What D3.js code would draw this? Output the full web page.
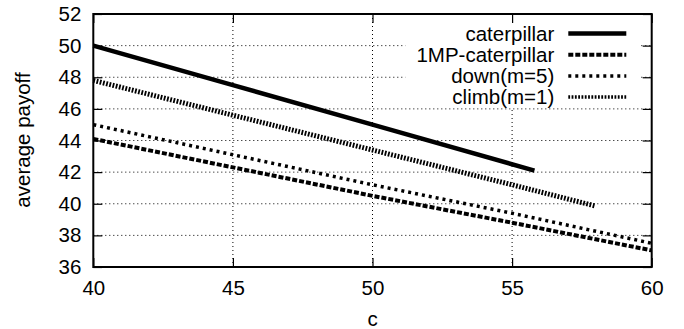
<!DOCTYPE html>
<html>
<head>
<meta charset="utf-8">
<script src="https://cdn.jsdelivr.net/npm/d3@7"></script>
<style>
body { margin: 0; background: #fff; }
text { font-family: "Liberation Sans", Arial, sans-serif; font-size: 20.5px; fill: #000; }
</style>
</head>
<body>
<svg width="684" height="329"></svg>
<script>
// values
var names = ["caterpillar", "1MP-caterpillar", "down(m=5)", "climb(m=1)"];
var catC = [40, 45, 50, 55.8];
var catY = [50.0, 47.5, 45.0, 42.1];
var mpC = [40, 45, 50, 55, 60];
var mpY = [44.1, 42.3, 40.5, 38.8, 37.05];
var downC = [40, 45, 50, 55, 60];
var downY = [45.0, 43.1, 41.2, 39.4, 37.5];
var climbC = [40, 45, 50, 55, 58];
var climbY = [47.8, 45.6, 43.4, 41.2, 39.85];
var xTicks = [40, 45, 50, 55, 60];
var yTicks = [36, 38, 40, 42, 44, 46, 48, 50, 52];

var margin = { top: 14, left: 93.3, right: 32.3, bottom: 62 };
var width = 684 - margin.left - margin.right;
var height = 329 - margin.top - margin.bottom;

var svg = d3.select("svg");
var g = svg.append("g")
    .attr("transform", "translate(" + margin.left + "," + margin.top + ")");

var x = d3.scaleLinear().domain([40, 60]).range([0, width]);
var y = d3.scaleLinear().domain([36, 52]).range([height, 0]);

// grid
g.selectAll(".gx").data(xTicks.slice(1, -1)).enter().append("line")
    .attr("x1", d => x(d)).attr("x2", d => x(d))
    .attr("y1", 0).attr("y2", height)
    .attr("stroke", "#000").attr("stroke-width", 1)
    .attr("stroke-dasharray", "1,3");
g.selectAll(".gy").data(yTicks.slice(1, -1)).enter().append("line")
    .attr("y1", d => y(d)).attr("y2", d => y(d))
    .attr("x1", 0).attr("x2", width)
    .attr("stroke", "#000").attr("stroke-width", 1)
    .attr("stroke-dasharray", "1,3");

// legend box hides grid behind it
var legX = 312, legW = 234, legH = 92;
g.append("rect").attr("x", legX).attr("y", 1).attr("width", legW).attr("height", legH)
    .attr("fill", "#fff");

// axes with inward ticks
var tk = 9;
g.append("g").attr("transform", "translate(0," + height + ")")
    .call(d3.axisBottom(x).tickValues(xTicks).tickSizeInner(-tk).tickSizeOuter(0).tickPadding(13.5))
    .call(a => a.select(".domain").remove());
g.append("g").call(d3.axisTop(x).tickValues(xTicks).tickSizeInner(-tk).tickSizeOuter(0).tickFormat(""))
    .call(a => a.select(".domain").remove());
g.append("g")
    .call(d3.axisLeft(y).tickValues(yTicks).tickSizeInner(-tk).tickSizeOuter(0).tickPadding(12))
    .call(a => a.select(".domain").remove());
g.append("g").attr("transform", "translate(" + width + ",0)")
    .call(d3.axisRight(y).tickValues(yTicks).tickSizeInner(-tk).tickSizeOuter(0).tickFormat(""))
    .call(a => a.select(".domain").remove());
g.selectAll(".tick line").attr("stroke", "#000").attr("stroke-width", 1.2);
g.selectAll(".tick text").style("font-size", "20.5px").attr("fill", "#000");

g.append("rect").attr("width", width).attr("height", height)
    .attr("fill", "none").attr("stroke", "#000").attr("stroke-width", 2);

// series
var series = [
    { c: catC, v: catY, dash: null, w: 4.5 },
    { c: mpC, v: mpY, dash: "5,2", w: 4 },
    { c: downC, v: downY, dash: "3,4", w: 3.5 },
    { c: climbC, v: climbY, dash: "1.8,1.5", w: 5 }
];
var line = d3.line().x(d => x(d[0])).y(d => y(d[1]));
series.forEach(function(s) {
    var pts = s.c.map((c, i) => [c, s.v[i]]);
    g.append("path").attr("d", line(pts))
        .attr("fill", "none").attr("stroke", "#000")
        .attr("stroke-width", s.w)
        .attr("stroke-dasharray", s.dash);
});

// legend
names.forEach(function(n, i) {
    var ly = 19.5 + i * 21.2;
    g.append("text").attr("x", 461).attr("y", ly).attr("dy", "0.35em")
        .attr("text-anchor", "end").text(n);
    g.append("line").attr("x1", 475).attr("x2", 533).attr("y1", ly).attr("y2", ly)
        .attr("stroke", "#000").attr("stroke-width", i == 3 ? 3.5 : series[i].w)
        .attr("stroke-dasharray", series[i].dash);
});

// axis labels
svg.append("text").attr("x", margin.left + width / 2).attr("y", 326)
    .attr("text-anchor", "middle").text("c");
svg.append("text").attr("transform", "translate(23,140) rotate(-90)")
    .attr("dy", "0.35em").attr("text-anchor", "middle").text("average payoff");
</script>
</body>
</html>
